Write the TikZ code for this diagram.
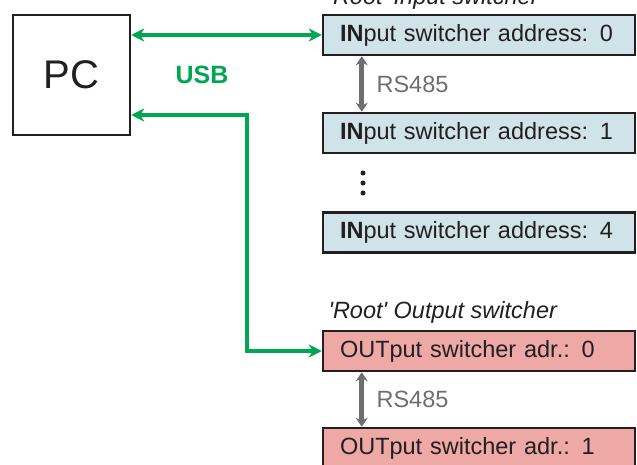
\documentclass[tikz,border=0pt]{standalone}
\usepackage{fontspec}
\setmainfont{Liberation Sans}
\usepackage{xcolor}
\usepackage{tikz}
\usetikzlibrary{arrows.meta}

\definecolor{usbgreen}{RGB}{0,166,81}
\definecolor{rsgray}{RGB}{109,110,113}
\definecolor{inblue}{RGB}{207,227,232}
\definecolor{outred}{RGB}{238,168,166}
\definecolor{inkgray}{RGB}{35,31,32}

\begin{document}
\begin{tikzpicture}[x=1pt, y=-1pt,
    every node/.style={text=inkgray, font=\fontsize{23.5}{28}\selectfont},
    switchbox/.style={draw=inkgray, line width=2.5pt, rectangle, minimum width=312pt,
        minimum height=40pt, inner xsep=17pt, text width=278pt, align=left},
    inbox/.style={switchbox, fill=inblue},
    outbox/.style={switchbox, fill=outred},
    usb/.style={usbgreen, line width=3.5pt, {Stealth[length=13pt, width=13pt]}-{Stealth[length=13pt, width=13pt]}},
    rs/.style={rsgray, line width=5pt, {Stealth[length=9pt, width=12pt]}-{Stealth[length=9pt, width=12pt]}}
  ]
            \useasboundingbox (0,0) rectangle (637,465);

            \node[draw=inkgray, line width=2.5pt, rectangle, minimum width=117pt, minimum height=120pt,
                  font=\fontsize{40}{44}\selectfont] (pc) at (71.5,75) {PC};

            \node[text=usbgreen, font=\fontsize{25}{28}\selectfont\bfseries] (usblabel) at (202,75) {USB};

            \node[anchor=base west, font=\fontsize{23.5}{28}\selectfont\itshape] (intitle) at (325,5)
                {\textquotesingle Root\textquotesingle{} Input switcher};
            \node[inbox] (in0) at (479,35) {\textbf{IN}put switcher address: 0};
            \node[inbox] (in1) at (479,133) {\textbf{IN}put switcher address: 1};
            \node[inbox] (in4) at (479,232.5) {\textbf{IN}put switcher address: 4};

            \fill[inkgray] (363,173) circle (2.5pt) (363,183) circle (2.5pt) (363,193) circle (2.5pt);

            \node[anchor=base west, font=\fontsize{23.5}{28}\selectfont\itshape] (outtitle) at (325,318)
                {\textquotesingle Root\textquotesingle{} Output switcher};
            \node[outbox] (out0) at (479,351) {OUTput switcher adr.: 0};
            \node[outbox] (out1) at (479,448) {OUTput switcher adr.: 1};

            % USB links
            \draw[usb] (pc.east |- in0.west) -- (in0.west);
            \coordinate (bend) at (247,115);
            \draw[usb] (pc.east |- bend) -- (bend) |- (out0.west);

            % RS485 buses
            \draw[rs] ([xshift=40pt]in0.south west) -- ([xshift=40pt]in1.north west)
                node[midway, right=9pt, text=rsgray] (rsin) {RS485};
            \draw[rs] ([xshift=40pt]out0.south west) -- ([xshift=40pt]out1.north west)
                node[midway, right=9pt, text=rsgray] (rsout) {RS485};
\end{tikzpicture}
\end{document}
